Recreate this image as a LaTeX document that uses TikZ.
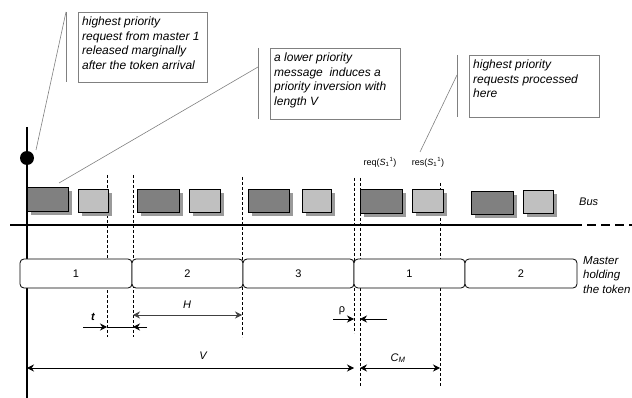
\documentclass[tikz,border=0pt]{standalone}
\usepackage{fontspec}
\setmainfont{Liberation Sans}
\usetikzlibrary{arrows.meta,shadows}
\definecolor{darkmsg}{HTML}{808080}
\definecolor{lightmsg}{HTML}{C0C0C0}
\definecolor{shadowc}{HTML}{9A9A9A}
\definecolor{callgray}{HTML}{808080}
\begin{document}
\begin{tikzpicture}[x=1pt,y=-1pt,
  msgbox/.style={draw=black, line width=0.9pt, inner sep=0pt, minimum height=23pt,
    drop shadow={shadow xshift=4pt, shadow yshift=-4pt, fill=shadowc, opacity=1}},
  darkbox/.style={msgbox, fill=darkmsg},
  lightbox/.style={msgbox, fill=lightmsg},
  dsh/.style={dash pattern=on 3pt off 2pt, line width=0.6pt},
  tokbox/.style={draw=black, fill=white, rounded corners=4pt, line width=0.8pt, inner sep=0pt,
    minimum height=29pt, font=\fontsize{11}{13}\selectfont},
  callbox/.style={draw=callgray, line width=0.6pt, inner sep=0pt, fill=white},
  calltext/.style={align=left, inner sep=0pt, font=\fontsize{12}{14.5}\selectfont\itshape},
  callbar/.style={draw=callgray, line width=0.7pt},
  leader/.style={draw=callgray, line width=0.6pt},
  dim/.style={line width=0.8pt, -{Stealth[length=7pt,width=7pt]}},
  dimboth/.style={line width=0.8pt, {Stealth[length=7pt,width=7pt]}-{Stealth[length=7pt,width=7pt]}},
  lbl/.style={inner sep=0pt, font=\fontsize{11}{13}\selectfont\itshape},
  rlbl/.style={inner sep=0pt, font=\fontsize{9}{10}\selectfont}
]
\useasboundingbox (0,0) rectangle (632,398);

% dashed verticals
\coordinate (d1t) at (107,175); \coordinate (d1b) at (107,337);
\coordinate (d2t) at (133,175); \coordinate (d2b) at (133,337);
\coordinate (d3t) at (242,177); \coordinate (d3b) at (242,337);
\coordinate (d4t) at (354,178); \coordinate (d4b) at (354,333);
\coordinate (d5t) at (360,178); \coordinate (d5b) at (360,387);
\coordinate (d6t) at (440,183); \coordinate (d6b) at (440,387);
\foreach \i in {1,...,6} {\draw[dsh] (d\i t) -- (d\i b);}

% time axis and bus line
\coordinate (axt) at (27,127); \coordinate (axb) at (27,398);
\draw[line width=1.5pt] (axt) -- (axb);
\coordinate (busl) at (10,225); \coordinate (busm) at (573,225); \coordinate (busr) at (632,225);
\draw[line width=1.5pt] (busl) -- (busm);
\draw[line width=1.5pt, dash pattern=on 9pt off 5pt] (busm) -- (busr);
\node[circle, fill=black, inner sep=0pt, minimum size=14pt] (dot) at (27,158) {};

% bus messages
\node[darkbox, minimum width=41pt, minimum height=24pt] (m1) at (47.5,199) {};
\node[lightbox, minimum width=30pt] (m2) at (93,200.5) {};
\node[darkbox, minimum width=42pt] (m3) at (158,200.5) {};
\node[lightbox, minimum width=31pt] (m4) at (204.5,200.5) {};
\node[darkbox, minimum width=41pt] (m5) at (268.5,200.5) {};
\node[lightbox, minimum width=29pt] (m6) at (316.5,200.5) {};
\node[darkbox, minimum width=42pt, minimum height=24pt] (m7) at (381,201) {};
\node[lightbox, minimum width=31pt] (m8) at (427.5,201) {};
\node[darkbox, minimum width=42pt] (m9) at (492,202.5) {};
\node[lightbox, minimum width=30pt] (m10) at (538,201.5) {};

\node[lbl, anchor=west] (bus) at (579,202) {Bus};
\node[rlbl] (req) at (380,162) {req(\textit{S}\textsubscript{1}\textsuperscript{1})};
\node[rlbl] (res) at (428,162) {res(\textit{S}\textsubscript{1}\textsuperscript{1})};

% token holders
\node[tokbox, minimum width=112pt] (k1) at (76,273.5) {1};
\node[tokbox, minimum width=111pt] (k2) at (187.5,273.5) {2};
\node[tokbox, minimum width=111pt] (k3) at (298.5,273.5) {3};
\node[tokbox, minimum width=111pt] (k4) at (409.5,273.5) {1};
\node[tokbox, minimum width=112pt] (k5) at (521,273.5) {2};
\node[lbl, align=left, anchor=north west, font=\fontsize{11.5}{14.5}\selectfont\itshape] (mht) at (583,256) {Master\\holding\\the token};

% dimensions
\coordinate (ta) at (83,327); \coordinate (tb) at (147,327);
\coordinate (t1) at (107,327); \coordinate (t2) at (133,327);
\draw[dim] (ta) -- (t1);
\draw[dim] (tb) -- (t2);
\draw[line width=0.8pt] (t1) -- (t2);
\node[inner sep=0pt, font=\fontsize{11}{13}\selectfont\bfseries\itshape] (tl) at (93,317) {t};

\coordinate (h1) at (133,315); \coordinate (h2) at (242,315);
\draw[dimboth, draw=black!75] (h1) -- (h2);
\node[lbl] (hl) at (187,305) {H};

\coordinate (v1) at (27,368); \coordinate (v2) at (354,368);
\draw[dimboth] (v1) -- (v2);
\node[lbl] (vl) at (203,356) {V};

\coordinate (r1) at (333,319); \coordinate (r2) at (354,319);
\coordinate (r3) at (387,319); \coordinate (r4) at (360,319);
\draw[dim] (r1) -- (r2);
\draw[dim] (r3) -- (r4);
\node[inner sep=0pt, font=\fontsize{11}{13}\selectfont] (rl) at (342,311) {ρ};

\coordinate (c1) at (360,368); \coordinate (c2) at (440,368);
\draw[dimboth] (c1) -- (c2);
\node[lbl] (cl) at (398,358) {C\textsubscript{M}};

% callouts
\node[callbox, minimum width=129pt, minimum height=70pt, anchor=north west] (cA) at (78,12) {};
\node[calltext, anchor=north west] (tA) at (82,17) {highest priority\\request from master 1\\released marginally\\after the token arrival};
\coordinate (bA1) at (66,12); \coordinate (bA2) at (66,82);
\draw[callbar] (bA1) -- (bA2);
\coordinate (lA) at (36,150);
\draw[leader] (bA1) -- (lA);

\node[callbox, minimum width=130pt, minimum height=71pt, anchor=north west] (cB) at (270,48) {};
\node[calltext, anchor=north west] (tB) at (274,53) {a lower priority\\message~ induces a\\priority inversion with\\length V};
\coordinate (bB1) at (258,48); \coordinate (bB2) at (258,119); \coordinate (bBm) at (258,67);
\draw[callbar] (bB1) -- (bB2);
\coordinate (lB) at (59,183);
\draw[leader] (bBm) -- (lB);

\node[callbox, minimum width=130pt, minimum height=62pt, anchor=north west] (cC) at (469,55) {};
\node[calltext, anchor=north west] (tC) at (473,60) {highest priority\\requests processed\\here};
\coordinate (bC1) at (457,55); \coordinate (bC2) at (457,117); \coordinate (bCm) at (457,75);
\draw[callbar] (bC1) -- (bC2);
\coordinate (lC) at (420,152);
\draw[leader] (bCm) -- (lC);
\end{tikzpicture}
\end{document}
